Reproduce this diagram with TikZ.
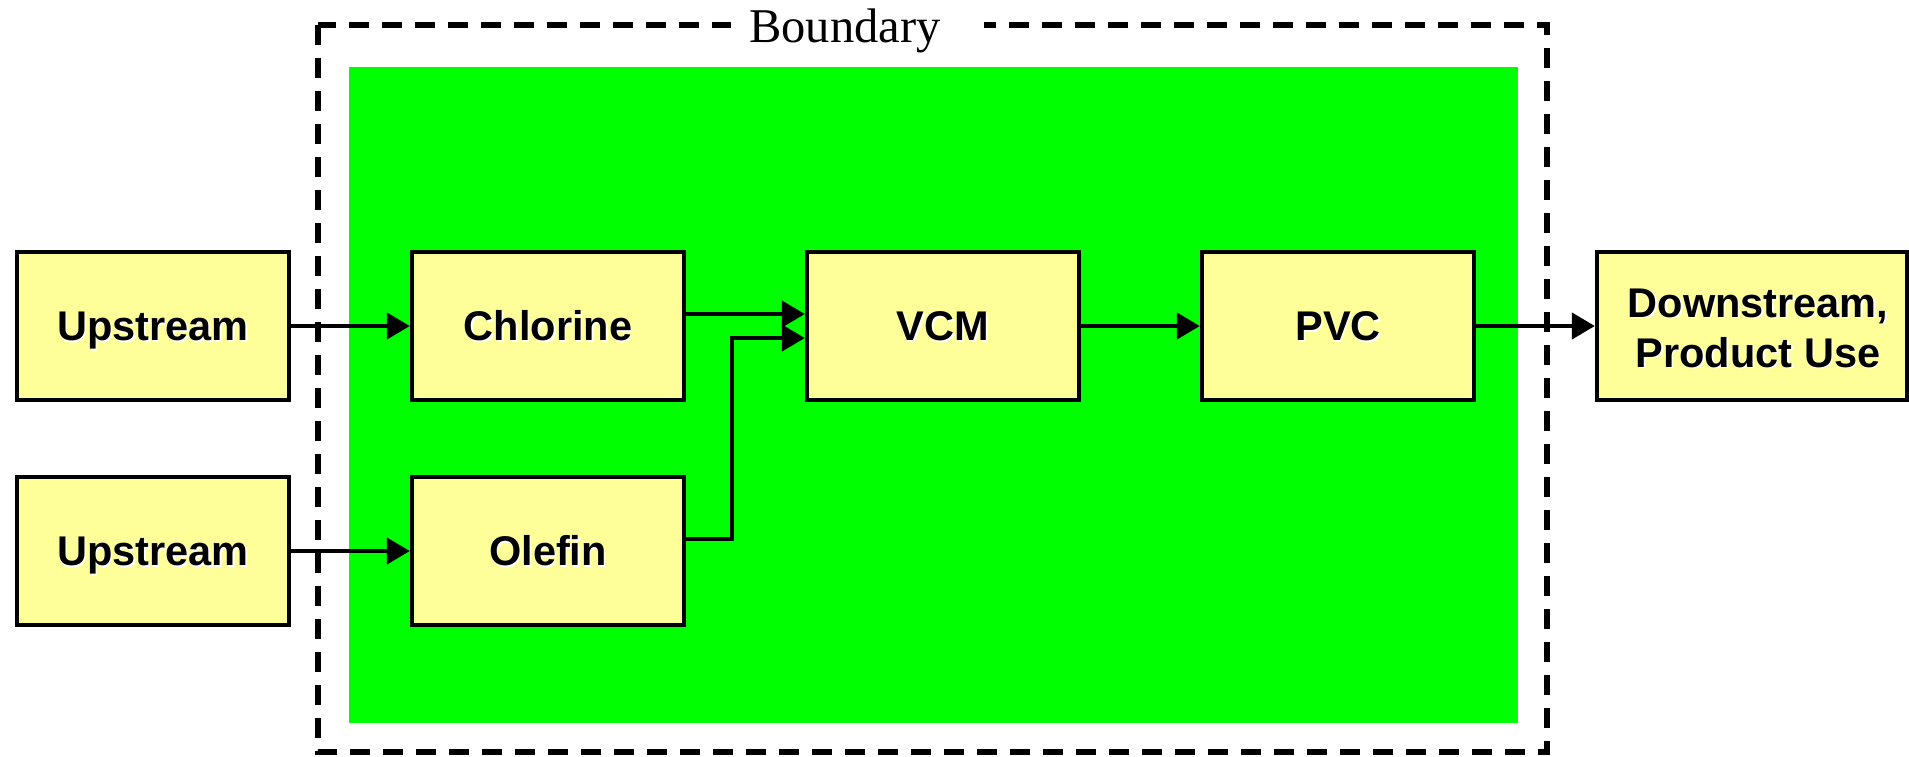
\documentclass[tikz,border=0pt]{standalone}
\usepackage{fontspec}
\setmainfont{Liberation Serif}
\newfontfamily\boxfont{Liberation Sans}
\usetikzlibrary{arrows.meta}
\definecolor{boxyellow}{HTML}{FFFF99}
\definecolor{zonegreen}{HTML}{00FF00}
% bold label with a small white drop shadow
\newcommand\shadowed[1]{\leavevmode\rlap{\hspace{1.5pt}\raisebox{-1.5pt}{\color{white}#1}}#1}
\begin{document}
\begin{tikzpicture}[x=1pt,y=-1pt,
  labelfont/.style={font=\boxfont\bfseries\fontsize{41.5}{50}\selectfont},
  stage/.style={draw=black, line width=4.3pt, fill=boxyellow,
    minimum width=272pt, minimum height=148pt, inner sep=0pt,
    labelfont, text height=29.5pt, text depth=0pt},
  flow/.style={line width=4.2pt, -{Triangle[length=23pt,width=26pt]}},
  zone/.style={line width=5.5pt, dash pattern=on 20pt off 13pt},
]
\useasboundingbox (0,0) rectangle (1909,756);

% system boundary and process area
\draw[zone] (318,25) rectangle (1547,752);
\fill[zonegreen] (349,67) rectangle (1518,723);
\fill[white] (731,10) rectangle (984,40);
\node[anchor=base, inner sep=0pt, font=\fontsize{48.5}{54}\selectfont] (bnd) at (845,42) {Boundary};

% process stages
\node[stage] (up1) at (153,326) {\shadowed{Upstream}};
\node[stage] (up2) at (153,551) {\shadowed{Upstream}};
\node[stage] (chl) at (548,326) {\shadowed{Chlorine}};
\node[stage] (ole) at (548,551) {\shadowed{Olefin}};
\node[stage] (vcm) at (943,326) {\shadowed{VCM}};
\node[stage] (pvc) at (1338,326) {\shadowed{PVC}};
\node[stage, minimum width=310pt] (ds) at (1752,326) {};
\node[labelfont, anchor=base, inner sep=0pt] (ds1) at (1758,317) {\shadowed{Downstream,}};
\node[labelfont, anchor=base, inner sep=0pt] (ds2) at (1758,367) {\shadowed{Product Use}};

% material flows
\draw[flow] (up1.east) -- (chl.west);
\draw[flow] (up2.east) -- (ole.west);
\draw[flow] ([yshift=12pt]chl.east) -- ([yshift=12pt]vcm.west);
\draw[flow] ([yshift=12pt]ole.east) -- ++(46,0) |- ([yshift=-12pt]vcm.west);
\draw[flow] (vcm.east) -- (pvc.west);
\draw[flow] (pvc.east) -- (ds.west);
\end{tikzpicture}
\end{document}
